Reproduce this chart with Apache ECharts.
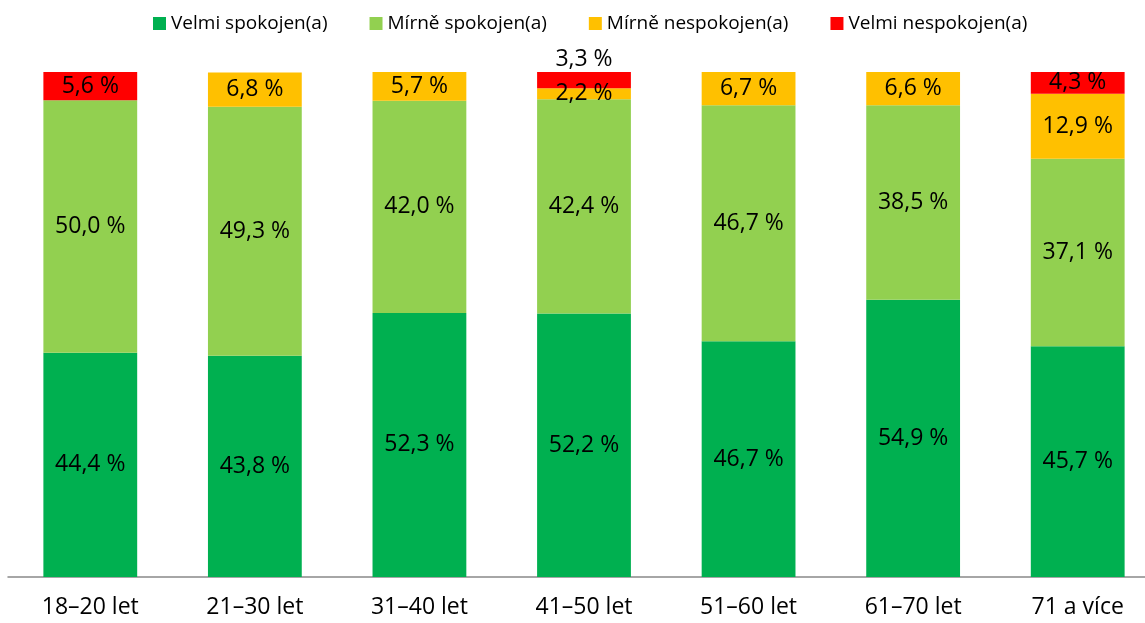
<!DOCTYPE html>
<html><head><meta charset="utf-8">
<script src="https://cdn.jsdelivr.net/npm/echarts@6/dist/echarts.min.js"></script>
<style>html,body{margin:0;padding:0;background:#fff}#c{width:1145px;height:623px}</style>
</head><body><div id="c"></div>
<script>
const categories = ['18–20 let','21–30 let','31–40 let','41–50 let','51–60 let','61–70 let','71 a více'];
const seriesNames = ['Velmi spokojen(a)','Mírně spokojen(a)','Mírně nespokojen(a)','Velmi nespokojen(a)'];
const velmiSpokojen = [44.4, 43.8, 52.3, 52.2, 46.7, 54.9, 45.7];
const mirneSpokojen = [50.0, 49.3, 42.0, 42.4, 46.7, 38.5, 37.1];
const mirneNespokojen = [null, 6.8, 5.7, 2.2, 6.7, 6.6, 12.9];
const velmiNespokojen = [5.6, null, null, 3.3, null, null, 4.3];
const colors = ['#00B050','#92D050','#FFC000','#FF0000'];

const FONT = 'Open Sans';
const fmt = p => p.value == null ? '' : p.value.toFixed(1).replace('.', ',') + ' %';
function mk(name, data, color, idx) {
  return {
    name, type: 'bar', stack: 'a', barWidth: '57%',
    itemStyle: { color },
    data: data.map((v, i) => {
      if (idx === 3 && i === 3) return { value: v, label: { position: 'top', distance: 1 } };
      return v;
    }),
    label: { show: true, position: 'inside', formatter: fmt, color: '#000', fontSize: 23, fontFamily: FONT }
  };
}
const chart = echarts.init(document.getElementById('c'));
chart.setOption({
  animation: false,
  legend: {
    top: 9, left: 148, itemWidth: 13, itemHeight: 13, itemGap: 42,
    icon: 'rect',
    textStyle: { fontSize: 19, fontFamily: FONT, color: '#000' },
    data: seriesNames
  },
  grid: { left: 8, width: 1152, top: 72, bottom: 46, containLabel: false, outerBoundsMode: 'none' },
  xAxis: {
    type: 'category', data: categories,
    axisLine: { lineStyle: { color: '#898989', width: 1.5 } },
    axisTick: { show: false },
    axisLabel: { fontSize: 23, fontFamily: FONT, color: '#000', margin: 19 }
  },
  yAxis: { type: 'value', min: 0, max: 100, show: false, splitLine: { show: false } },
  series: [
    mk(seriesNames[0], velmiSpokojen, colors[0], 0),
    mk(seriesNames[1], mirneSpokojen, colors[1], 1),
    mk(seriesNames[2], mirneNespokojen, colors[2], 2),
    mk(seriesNames[3], velmiNespokojen, colors[3], 3)
  ]
});
</script></body></html>
